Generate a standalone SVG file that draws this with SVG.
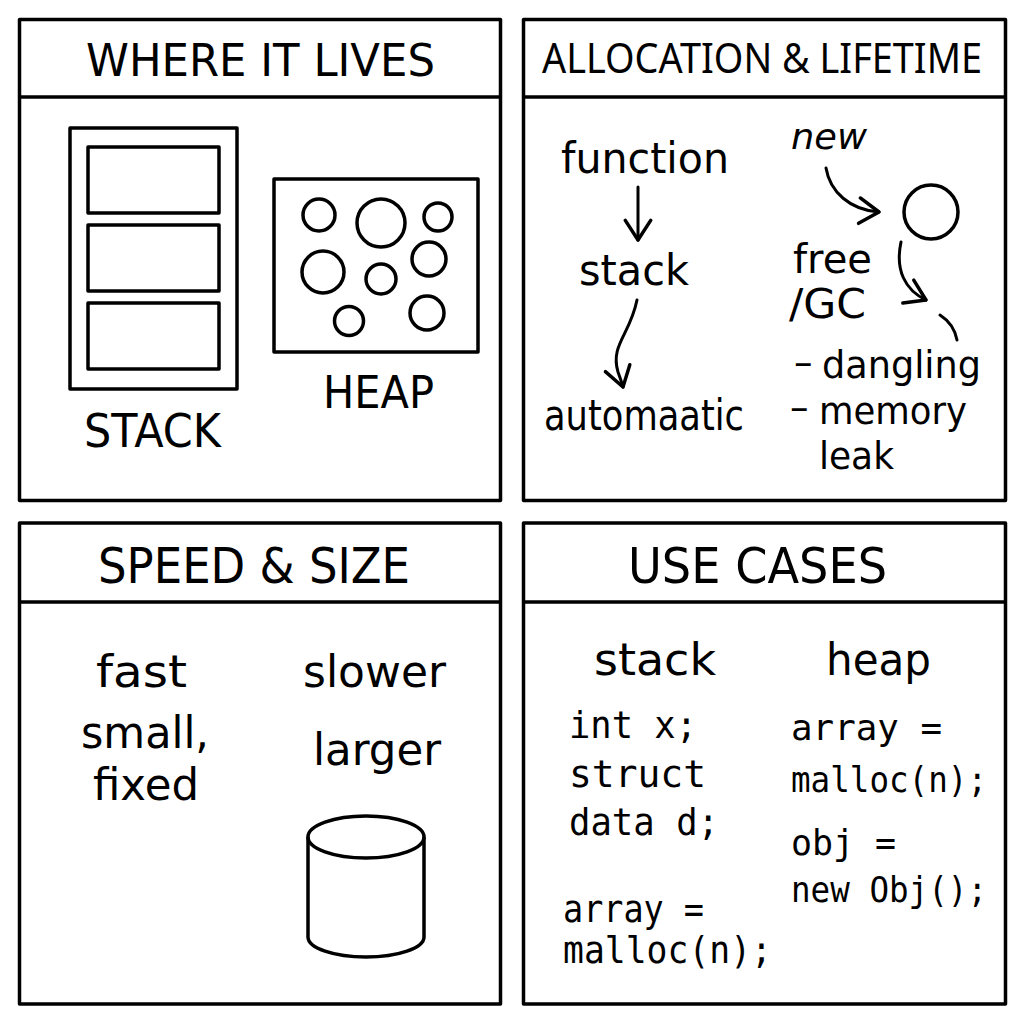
<svg xmlns="http://www.w3.org/2000/svg" width="1024" height="1024" viewBox="0 0 1024 1024">
<style>
.frame{fill:none;stroke:#000;stroke-width:3.5;stroke-linejoin:round}
.shape{fill:none;stroke:#000;stroke-width:3.5;stroke-linejoin:round}
.wire{fill:none;stroke:#000;stroke-width:3;stroke-linecap:round}
.t{font-family:"DejaVu Sans","Noto Sans",sans-serif;fill:#000}
.n{font-family:"Noto Sans","DejaVu Sans",sans-serif;fill:#000}
.m{font-family:"DejaVu Sans Mono","Liberation Mono",monospace;fill:#000}
</style>
<defs>
<marker id="v" markerUnits="userSpaceOnUse" markerWidth="30" markerHeight="30" viewBox="-20 -13 24 26" refX="0" refY="0" orient="auto">
<path d="M-17,-11 L0,0 L-17,11" fill="none" stroke="#000" stroke-width="3" stroke-linecap="round" stroke-linejoin="round"/>
</marker>
</defs>
<rect width="1024" height="1024" fill="#fff"/>

<g id="panel-where">
<rect class="frame" x="19.5" y="19.5" width="481" height="481"/>
<line class="frame" x1="19.5" y1="97" x2="500.5" y2="97"/>
<text class="t" x="86" y="76" font-size="45" textLength="349" lengthAdjust="spacingAndGlyphs">WHERE IT LIVES</text>
</g>
<g id="stack-node">
<rect class="shape" x="70" y="128" width="167" height="261"/>
<rect class="shape" x="88" y="147" width="131" height="66"/>
<rect class="shape" x="88" y="225" width="131" height="66"/>
<rect class="shape" x="88" y="303" width="131" height="66"/>
<text class="t" x="84" y="447" font-size="46" textLength="137" lengthAdjust="spacingAndGlyphs">STACK</text>
</g>
<g id="heap-node">
<rect class="shape" x="274" y="179" width="204" height="173"/>
<circle class="shape" cx="319" cy="215" r="16"/>
<circle class="shape" cx="381" cy="223" r="24"/>
<circle class="shape" cx="438" cy="217" r="14"/>
<circle class="shape" cx="323" cy="272" r="21"/>
<circle class="shape" cx="381" cy="279" r="15"/>
<circle class="shape" cx="429" cy="259" r="17"/>
<circle class="shape" cx="349" cy="321" r="14.5"/>
<circle class="shape" cx="427" cy="313" r="17"/>
<text class="t" x="323" y="408" font-size="45" textLength="111" lengthAdjust="spacingAndGlyphs">HEAP</text>
</g>

<g id="panel-alloc">
<rect class="frame" x="523.5" y="19.5" width="482" height="481"/>
<line class="frame" x1="523.5" y1="97" x2="1005.5" y2="97"/>
<text class="n" x="762" y="73" font-size="41" text-anchor="middle" textLength="440" lengthAdjust="spacingAndGlyphs">ALLOCATION &amp; LIFETIME</text>
</g>
<g id="alloc-function"><text class="t" x="561" y="173" font-size="42" textLength="168" lengthAdjust="spacingAndGlyphs">function</text></g>
<g id="alloc-stack"><text class="t" x="579" y="285" font-size="42" textLength="110" lengthAdjust="spacingAndGlyphs">stack</text></g>
<g id="alloc-automatic"><text class="t" x="544" y="430" font-size="42" textLength="200" lengthAdjust="spacingAndGlyphs">automaatic</text></g>
<g id="alloc-new"><text class="t" x="791" y="149" font-size="36" font-style="italic" textLength="76" lengthAdjust="spacingAndGlyphs">new</text></g>
<g id="alloc-object"><circle class="shape" cx="931" cy="212" r="27"/></g>
<g id="alloc-free">
<text class="t" x="793" y="273" font-size="40" textLength="79" lengthAdjust="spacingAndGlyphs">free</text>
<text class="t" x="789" y="318" font-size="40" textLength="77" lengthAdjust="spacingAndGlyphs">/GC</text>
</g>
<g id="alloc-issues">
<text class="t" font-size="37"><tspan x="794" y="375">–</tspan><tspan x="822" y="378" textLength="159" lengthAdjust="spacingAndGlyphs">dangling</tspan></text>
<text class="t" font-size="37"><tspan x="790" y="420">–</tspan><tspan x="819" y="424" textLength="148" lengthAdjust="spacingAndGlyphs">memory</tspan></text>
<text class="t" x="819" y="469" font-size="37" textLength="75" lengthAdjust="spacingAndGlyphs">leak</text>
</g>

<g id="panel-speed">
<rect class="frame" x="19.5" y="523" width="481" height="481"/>
<line class="frame" x1="19.5" y1="602" x2="500.5" y2="602"/>
<text class="t" x="98" y="583" font-size="50" textLength="312" lengthAdjust="spacingAndGlyphs">SPEED &amp; SIZE</text>
</g>
<g id="speed-stack">
<text class="t" x="96" y="687" font-size="44" textLength="91" lengthAdjust="spacingAndGlyphs">fast</text>
<text class="t" x="81" y="748" font-size="44" textLength="128" lengthAdjust="spacingAndGlyphs">small,</text>
<text class="t" x="93" y="800" font-size="44" textLength="106" lengthAdjust="spacingAndGlyphs">fixed</text>
</g>
<g id="speed-heap">
<text class="t" x="303" y="687" font-size="44" textLength="143" lengthAdjust="spacingAndGlyphs">slower</text>
<text class="t" x="313" y="765" font-size="44" textLength="128" lengthAdjust="spacingAndGlyphs">larger</text>
<ellipse class="shape" cx="366" cy="837" rx="58" ry="21"/>
<path class="shape" d="M308,837 L308,937 A58,20 0 0 0 424,937 L424,837"/>
</g>

<g id="panel-use">
<rect class="frame" x="523.5" y="523" width="482" height="481"/>
<line class="frame" x1="523.5" y1="602" x2="1005.5" y2="602"/>
<text class="t" x="628" y="583" font-size="50" textLength="259" lengthAdjust="spacingAndGlyphs">USE CASES</text>
</g>
<g id="use-stack">
<text class="t" x="594" y="675" font-size="45" textLength="122" lengthAdjust="spacingAndGlyphs">stack</text>
<text class="m" x="569" y="738" font-size="38" textLength="128" lengthAdjust="spacingAndGlyphs">int x;</text>
<text class="m" x="569" y="787" font-size="38" textLength="137" lengthAdjust="spacingAndGlyphs">struct</text>
<text class="m" x="569" y="835" font-size="38" textLength="150" lengthAdjust="spacingAndGlyphs">data d;</text>
<text class="m" x="563" y="922" font-size="38" textLength="141" lengthAdjust="spacingAndGlyphs">array =</text>
<text class="m" x="563" y="963" font-size="38" textLength="209" lengthAdjust="spacingAndGlyphs">malloc(n);</text>
</g>
<g id="use-heap">
<text class="t" x="826" y="675" font-size="45" textLength="105" lengthAdjust="spacingAndGlyphs">heap</text>
<text class="m" x="791" y="740" font-size="35" textLength="151" lengthAdjust="spacingAndGlyphs">array =</text>
<text class="m" x="791" y="792" font-size="35" textLength="196" lengthAdjust="spacingAndGlyphs">malloc(n);</text>
<text class="m" x="791" y="855" font-size="35" textLength="105" lengthAdjust="spacingAndGlyphs">obj =</text>
<text class="m" x="791" y="902" font-size="35" textLength="196" lengthAdjust="spacingAndGlyphs">new Obj();</text>
</g>

<g id="connectors">
<path class="wire" d="M638,187 L638,240" marker-end="url(#v)"/>
<path class="wire" d="M637,300 C630,335 610,345 618,372 Q621,380 623,387" marker-end="url(#v)"/>
<path class="wire" d="M826,168 C830,192 850,210 879,212" marker-end="url(#v)"/>
<path class="wire" d="M901,242 C895,270 905,290 926,300" marker-end="url(#v)"/>
<path class="wire" d="M940,315 Q954,324 957,340"/>
</g>
</svg>
